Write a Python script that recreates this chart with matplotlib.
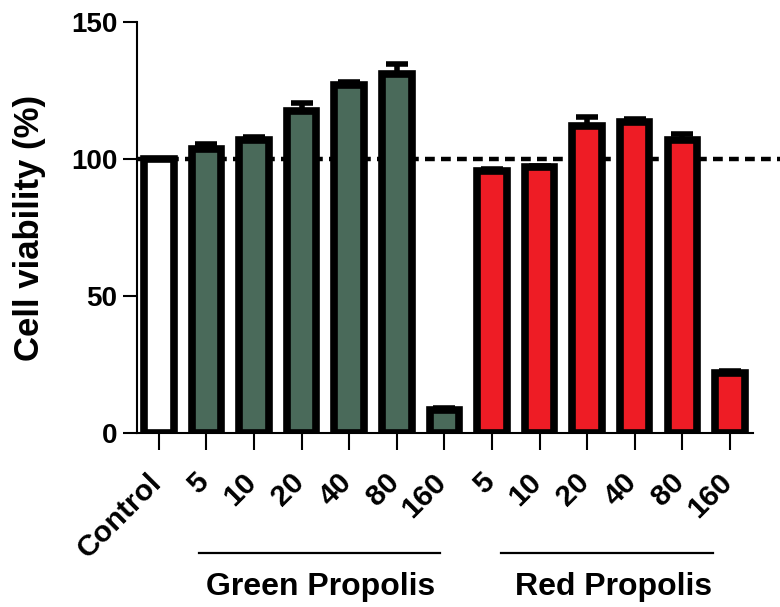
import matplotlib
matplotlib.use("Agg")
import matplotlib.pyplot as plt
import matplotlib.transforms as mtransforms
import numpy as np

plt.rcParams['font.family'] = ['Liberation Sans', 'DejaVu Sans']

categories = ["Control", "5", "10", "20", "40", "80", "160", "5", "10", "20", "40", "80", "160"]
values = [100, 103.5, 107, 117.5, 127, 131, 8.5, 95.5, 97, 112, 113.5, 107, 22]
errors = [0, 2, 1, 3, 1, 3.5, 0.5, 1, 0.5, 3.5, 1, 2, 0.5]
groups = ["Green Propolis", "Red Propolis"]
colors = ["#ffffff"] + ["#4a6a5a"] * 6 + ["#ee1c25"] * 6

fig = plt.figure(figsize=(7.8, 6.07), dpi=100)
ax = fig.add_axes([0.1756, 0.2867, 0.965 - 0.1756, 0.9638 - 0.2867])

x = np.arange(len(categories))
ax.axhline(100, xmin=0, xmax=1.2, color='black', lw=3.2, ls=(0, (2.2, 1.4)), zorder=1, clip_on=False)
ax.errorbar(x, values, yerr=[np.zeros(len(errors)), errors], fmt='none', ecolor='black',
            elinewidth=4, capsize=8, capthick=4, zorder=2)
ax.bar(x, values, width=0.62, color=colors, edgecolor='black', linewidth=5.5, zorder=3)

ax.set_xlim(-0.46, 12.48)
ax.set_ylim(0, 150)
ax.set_yticks([0, 50, 100, 150])
ax.set_xticks(x)
ax.set_xticklabels([])
for lab in ax.get_yticklabels():
    lab.set_fontsize(20)
    lab.set_fontweight('bold')
ax.tick_params(axis='x', direction='out', length=12, width=1.5)
ax.tick_params(axis='y', direction='out', length=10, width=1.5, pad=4)
ax.spines['top'].set_visible(False)
ax.spines['right'].set_visible(False)
ax.spines['left'].set_linewidth(1.5)
ax.spines['bottom'].set_linewidth(1.5)
ax.set_ylabel("Cell viability (%)", fontsize=25, fontweight='bold', labelpad=18)

# rotated category labels
lab_trans = ax.get_xaxis_transform() + mtransforms.ScaledTranslation(-12 / 100, -35 / 100, fig.dpi_scale_trans)
for xi, cat in zip(x, categories):
    ax.text(xi, 0, cat, transform=lab_trans, rotation=45, ha='right', va='top',
            rotation_mode='anchor', fontsize=21.5, fontweight='bold', clip_on=False)

# group annotations
trans = ax.get_xaxis_transform()
ax.plot([0.85, 5.9], [-0.292, -0.292], color='black', lw=1.6, transform=trans, clip_on=False)
ax.plot([7.2, 11.65], [-0.292, -0.292], color='black', lw=1.6, transform=trans, clip_on=False)
ax.text(3.4, -0.338, groups[0], transform=trans, ha='center', va='top', fontsize=23, fontweight='bold')
ax.text(9.55, -0.338, groups[1], transform=trans, ha='center', va='top', fontsize=23, fontweight='bold')

fig.savefig("out.png", dpi=100)
